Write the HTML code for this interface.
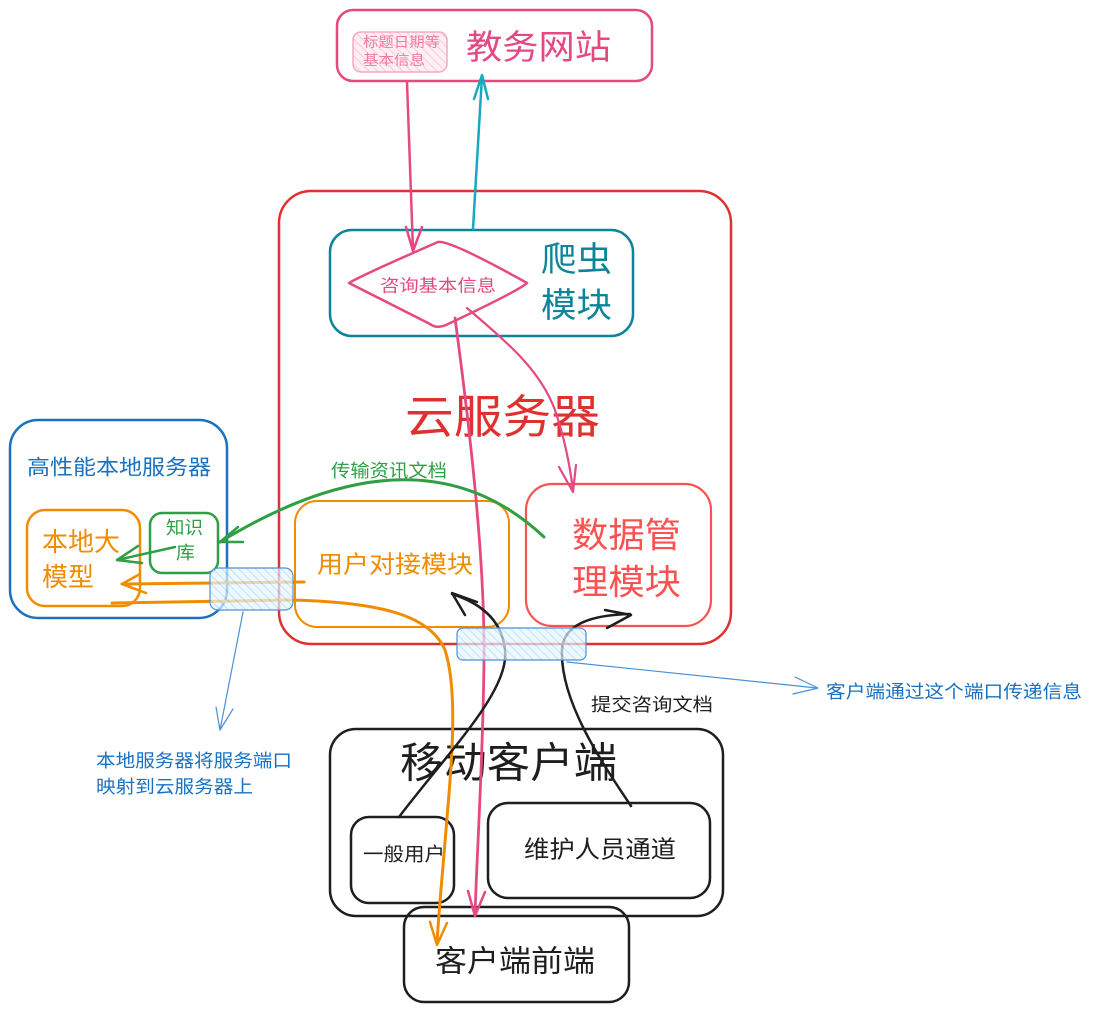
<!DOCTYPE html>
<html>
<head>
<meta charset="utf-8">
<style>
  html,body{margin:0;padding:0;background:#ffffff;}
  svg{display:block;}
  text{font-family:"Liberation Sans","Noto Sans CJK SC","WenQuanYi Zen Hei",sans-serif;dominant-baseline:central;}
</style>
</head>
<body>
<svg width="1094" height="1011" viewBox="0 0 1094 1011" xmlns="http://www.w3.org/2000/svg">
  <defs>
    <pattern id="hatchBlue" patternUnits="userSpaceOnUse" width="6" height="6" patternTransform="rotate(-45)">
      <rect width="6" height="6" fill="#e7f5ff"/>
      <line x1="0" y1="0" x2="0" y2="6" stroke="#a5d8ff" stroke-width="2"/>
    </pattern>
    <pattern id="hatchPink" patternUnits="userSpaceOnUse" width="6" height="6" patternTransform="rotate(-45)">
      <rect width="6" height="6" fill="#fff0f3"/>
      <line x1="0" y1="0" x2="0" y2="6" stroke="#ffc9d6" stroke-width="2"/>
    </pattern>
  </defs>

  <!-- 教务网站 -->
  <rect x="337" y="10" width="315" height="71" rx="16" fill="none" stroke="#e64980" stroke-width="2.5"/>
  <rect x="353" y="32" width="94" height="40" rx="8" fill="url(#hatchPink)" stroke="#f7a8c4" stroke-width="1.5"/>
  <text x="363" y="42" font-size="14" fill="#ef7aa4" textLength="77" lengthAdjust="spacingAndGlyphs">标题日期等</text>
  <text x="363" y="60" font-size="14" fill="#ef7aa4" textLength="62" lengthAdjust="spacingAndGlyphs">基本信息</text>
  <text x="466" y="48" font-size="34" fill="#e64980" textLength="145" lengthAdjust="spacingAndGlyphs">教务网站</text>

  <!-- 云服务器 -->
  <rect x="279" y="191" width="452" height="453" rx="32" fill="none" stroke="#e03131" stroke-width="2.5"/>
  <text x="405" y="417" font-size="46" fill="#e03131" textLength="195" lengthAdjust="spacingAndGlyphs">云服务器</text>

  <!-- 爬虫模块 -->
  <rect x="330" y="230" width="303" height="106" rx="22" fill="none" stroke="#0c8599" stroke-width="2.5"/>
  <text x="541" y="260" font-size="34" fill="#0c8599" textLength="71" lengthAdjust="spacingAndGlyphs">爬虫</text>
  <text x="541" y="306" font-size="34" fill="#0c8599" textLength="71" lengthAdjust="spacingAndGlyphs">模块</text>
  <path d="M349,283 Q360,276 438,242 Q450,240 527,283 Q520,290 446,325 Q436,329 430,324 Z" fill="none" stroke="#e64980" stroke-width="2.5" stroke-linejoin="round"/>
  <text x="380" y="286" font-size="17" fill="#e64980" textLength="116" lengthAdjust="spacingAndGlyphs">咨询基本信息</text>

  <!-- 数据管理模块 -->
  <rect x="526" y="484" width="185" height="142" rx="26" fill="none" stroke="#fa5252" stroke-width="2.2"/>
  <text x="572" y="536" font-size="35" fill="#fa5252" textLength="109" lengthAdjust="spacingAndGlyphs">数据管</text>
  <text x="572" y="583" font-size="35" fill="#fa5252" textLength="109" lengthAdjust="spacingAndGlyphs">理模块</text>

  <!-- 用户对接模块 -->
  <rect x="295" y="501" width="214" height="126" rx="22" fill="none" stroke="#f08c00" stroke-width="2"/>
  <text x="317" y="565" font-size="24" fill="#f08c00" textLength="156" lengthAdjust="spacingAndGlyphs">用户对接模块</text>

  <!-- 高性能本地服务器 -->
  <rect x="10" y="420" width="217" height="198" rx="28" fill="none" stroke="#1971c2" stroke-width="2.5"/>
  <text x="27" y="468" font-size="21" fill="#1971c2" textLength="184" lengthAdjust="spacingAndGlyphs">高性能本地服务器</text>
  <rect x="27" y="510" width="113" height="96" rx="18" fill="none" stroke="#f08c00" stroke-width="2.5"/>
  <text x="42" y="542" font-size="26" fill="#f08c00" textLength="78" lengthAdjust="spacingAndGlyphs">本地大</text>
  <text x="42" y="577" font-size="26" fill="#f08c00" textLength="52" lengthAdjust="spacingAndGlyphs">模型</text>
  <rect x="150" y="513" width="68" height="60" rx="12" fill="none" stroke="#2f9e44" stroke-width="2.5"/>
  <text x="166" y="528" font-size="18" fill="#2f9e44" textLength="37" lengthAdjust="spacingAndGlyphs">知识</text>
  <text x="176" y="553" font-size="18" fill="#2f9e44" textLength="19" lengthAdjust="spacingAndGlyphs">库</text>

  <!-- 移动客户端 -->
  <rect x="330" y="729" width="393" height="187" rx="26" fill="none" stroke="#1e1e1e" stroke-width="2.5"/>
  <text x="400" y="763" font-size="42" fill="#1e1e1e" textLength="217" lengthAdjust="spacingAndGlyphs">移动客户端</text>
  <rect x="351" y="817" width="103" height="86" rx="18" fill="none" stroke="#1e1e1e" stroke-width="2.5"/>
  <text x="363" y="855" font-size="19" fill="#1e1e1e" textLength="82" lengthAdjust="spacingAndGlyphs">一般用户</text>
  <rect x="488" y="803" width="222" height="95" rx="20" fill="none" stroke="#1e1e1e" stroke-width="2.5"/>
  <text x="524" y="850" font-size="24" fill="#1e1e1e" textLength="152" lengthAdjust="spacingAndGlyphs">维护人员通道</text>
  <rect x="404" y="907" width="225" height="95" rx="20" fill="#ffffff" fill-opacity="0" stroke="#1e1e1e" stroke-width="2.5"/>
  <text x="435" y="962" font-size="30" fill="#1e1e1e" textLength="160" lengthAdjust="spacingAndGlyphs">客户端前端</text>

  <!-- Arrows -->
  <g fill="none" stroke-linecap="round" stroke-linejoin="round">
    <!-- pink: website -> diamond -->
    <path d="M407,82 L413,250" stroke="#e64980" stroke-width="2.5"/>
    <path d="M406,227 L413,251 L422,227" stroke="#e64980" stroke-width="2.5"/>
    <!-- cyan: crawler -> website -->
    <path d="M473,229 L482,76" stroke="#15aabf" stroke-width="2.5"/>
    <path d="M474,99 L482,75 L488,99" stroke="#15aabf" stroke-width="2.5"/>
    <!-- pink: diamond -> data mgmt -->
    <path d="M467,308 C510,345 540,370 555,410 C565,440 570,465 573,491" stroke="#e64980" stroke-width="2.2"/>
    <path d="M559,467 L573,492 L576,465" stroke="#e64980" stroke-width="2.2"/>
    <!-- pink: diamond -> client frontend -->
    <path d="M455,318 C470,430 485,560 484,660 C483,760 477,850 475,915" stroke="#e64980" stroke-width="2.8"/>
    <path d="M468,891 L475,916 L485,892" stroke="#e64980" stroke-width="2.5"/>
    <!-- green: data -> knowledge base -->
    <path d="M544,537 Q420,420 220,542" stroke="#2f9e44" stroke-width="3"/>
    <path d="M238,527 L220,542 L243,542" stroke="#2f9e44" stroke-width="2.5"/>
    <!-- green: knowledge -> model -->
    <path d="M175,547 L117,560" stroke="#2f9e44" stroke-width="2.5"/>
    <path d="M138,546 L117,560 L142,563" stroke="#2f9e44" stroke-width="2.5"/>
    <!-- orange: user module -> model -->
    <path d="M304,582 L122,584" stroke="#f08c00" stroke-width="3"/>
    <path d="M140,574 L122,584 L146,593" stroke="#f08c00" stroke-width="2.5"/>
    <!-- orange: model -> client frontend -->
    <path d="M112,603 L290,600 C380,602 430,615 445,650 C458,690 452,760 446,830 C442,880 438,920 437,944" stroke="#f08c00" stroke-width="3"/>
    <path d="M430,922 L437,945 L447,923" stroke="#f08c00" stroke-width="2.5"/>
    <!-- black: general user -> user module -->
    <path d="M399,817 C450,750 510,690 505,650 C502,620 480,603 452,594" stroke="#1e1e1e" stroke-width="2.5"/>
    <path d="M477,602 L452,593 L465,615" stroke="#1e1e1e" stroke-width="2.5"/>
    <!-- black: maintainer -> data mgmt -->
    <path d="M631,806 C600,760 560,700 562,650 C563,625 590,615 630,614" stroke="#1e1e1e" stroke-width="2.5"/>
    <path d="M605,610 L631,615 L607,628" stroke="#1e1e1e" stroke-width="2.5"/>
    <!-- blue thin: right port -> label -->
    <path d="M567,662 L817,688" stroke="#4a90d9" stroke-width="1.2"/>
    <path d="M795,677 L818,688 L793,694" stroke="#4a90d9" stroke-width="1.2"/>
    <!-- blue thin: left port -> label -->
    <path d="M243,612 L220,730" stroke="#4a90d9" stroke-width="1.2"/>
    <path d="M216,707 L220,730 L233,709" stroke="#4a90d9" stroke-width="1.2"/>
  </g>

  <!-- Port boxes (semi-transparent hatched) -->
  <rect x="210" y="568" width="83" height="42" rx="8" fill="url(#hatchBlue)" fill-opacity="0.7" stroke="#4a90d9" stroke-width="1.2"/>
  <rect x="457" y="628" width="129" height="32" rx="6" fill="url(#hatchBlue)" fill-opacity="0.7" stroke="#4a90d9" stroke-width="1.2"/>

  <!-- Labels -->
  <text x="331" y="471" font-size="18" fill="#2f9e44" textLength="116" lengthAdjust="spacingAndGlyphs">传输资讯文档</text>
  <text x="591" y="705" font-size="18" fill="#1e1e1e" textLength="122" lengthAdjust="spacingAndGlyphs">提交咨询文档</text>
  <text x="826" y="692" font-size="18" fill="#1971c2" textLength="256" lengthAdjust="spacingAndGlyphs">客户端通过这个端口传递信息</text>
  <text x="96" y="761" font-size="18" fill="#1971c2" textLength="196" lengthAdjust="spacingAndGlyphs">本地服务器将服务端口</text>
  <text x="96" y="787" font-size="18" fill="#1971c2" textLength="157" lengthAdjust="spacingAndGlyphs">映射到云服务器上</text>
</svg>
</body>
</html>
